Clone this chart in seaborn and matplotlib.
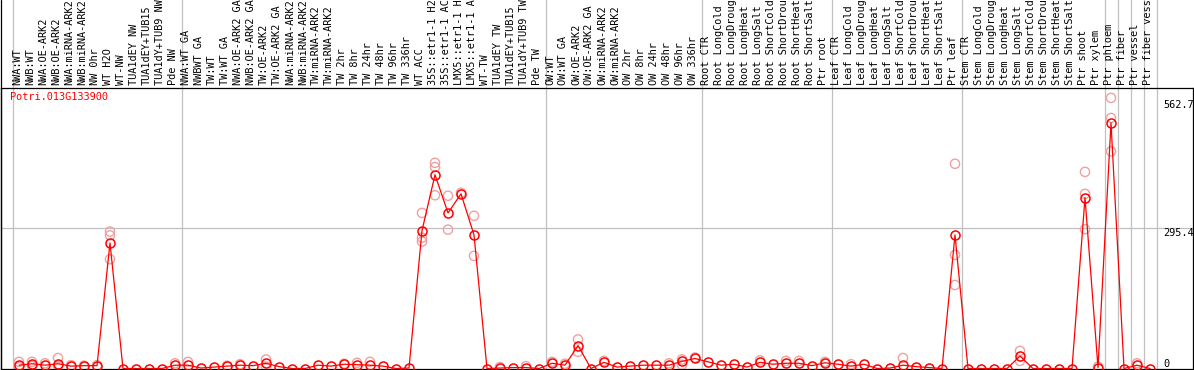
import numpy as np
import pandas as pd
import matplotlib
matplotlib.use("Agg")
import matplotlib.pyplot as plt
from matplotlib.lines import Line2D
import seaborn as sns

# sample labels (as displayed, 14 chars max)
labels = [
    "NWA:WT", "NWB:WT", "NWA:OE-ARK2", "NWB:OE-ARK2", "NWA:miRNA-ARK2", "NWB:miRNA-ARK2",
    "NW 0hr", "WT H2O", "WT-NW", "TUA1dEY NW", "TUA1dEY+TUB15", "TUA1dY+TUB9 NW", "Pde NW",
    "NWA:WT GA", "NWBWT GA", "TW:WT", "TW:WT GA", "NWA:OE-ARK2 GA", "NWB:OE-ARK2 GA",
    "TW:OE-ARK2", "TW:OE-ARK2 GA", "NWA:miRNA-ARK2", "NWB:miRNA-ARK2", "TW:miRNA-ARK2",
    "TW:miRNA-ARK2", "TW 2hr", "TW 8hr", "TW 24hr", "TW 48hr", "TW 96hr", "TW 336hr",
    "WT ACC", "35S::etr1-1 H2", "35S::etr1-1 AC", "LMX5::etr1-1 H", "LMX5::etr1-1 A",
    "WT-TW", "TUA1dEY TW", "TUA1dEY+TUB15", "TUA1dY+TUB9 TW", "Pde TW",
    "OW:WT", "OW:WT GA", "OW:OE-ARK2", "OW:OE-ARK2 GA", "OW:miRNA-ARK2", "OW:miRNA-ARK2",
    "OW 2hr", "OW 8hr", "OW 24hr", "OW 48hr", "OW 96hr", "OW 336hr",
    "Root CTR", "Root LongCold", "Root LongDroug", "Root LongHeat", "Root LongSalt",
    "Root ShortCold", "Root ShortDrou", "Root ShortHeat", "Root ShortSalt", "Ptr root",
    "Leaf CTR", "Leaf LongCold", "Leaf LongDroug", "Leaf LongHeat", "Leaf LongSalt",
    "Leaf ShortCold", "Leaf ShortDrou", "Leaf ShortHeat", "Leaf ShortSalt", "Ptr leaf",
    "Stem CTR", "Stem LongCold", "Stem LongDroug", "Stem LongHeat", "Stem LongSalt",
    "Stem ShortCold", "Stem ShortDrou", "Stem ShortHeat", "Stem ShortSalt", "Ptr shoot",
    "Ptr xylem", "Ptr phloem", "Ptr fiber", "Ptr vessel", "Ptr fiber vess",
]

# mean expression per sample
means = [
    7, 10, 7, 10, 5, 6, 6, 263, 0, 0, 0, 0, 7,
    7, 1, 3, 5, 7, 6, 11, 4, 0, 0, 7, 5, 9, 8, 7, 5, 0, 1,
    289, 406, 326, 366, 280, 0, 1, 2, 2, 0,
    11, 7, 48, 0, 13, 3, 5, 7, 7, 7, 15, 21,
    14, 7, 9, 3, 13, 9, 11, 11, 6, 12,
    9, 5, 9, 0, 1, 7, 4, 2, 0, 280,
    0, 0, 0, 0, 26, 0, 0, 0, 0, 358, 2,
    515, 0, 7, 0,
]

# individual replicates (sample index, value)
rep_idx = [0, 0, 1, 1, 2, 3, 3, 4, 5, 6,
           7, 7, 7, 12, 13, 16, 17, 19, 19, 25, 26, 27,
           31, 31, 31, 32, 32, 32, 33, 33, 34, 35, 35,
           37, 39, 41, 42, 43, 43, 45, 50, 51, 51, 52,
           57, 59, 60, 62, 64, 68,
           72, 72, 72, 77, 77, 82, 82, 82, 83, 84, 84, 84, 86]
rep_val = [14, 3, 14, 5, 11, 22, 5, 7, 6, 7,
           287, 279, 229, 11, 14, 6, 9, 19, 4, 10, 12, 14,
           326, 274, 266, 431, 422, 363, 362, 291, 368, 320, 236,
           3, 5, 14, 10, 61, 35, 16, 11, 19, 8, 23,
           17, 16, 16, 14, 9, 22,
           429, 238, 175, 37, 16, 412, 366, 292, 4, 567, 525, 455, 11]

# samples per block (separators drawn after each block)
group_sizes = [13, 28, 12, 10, 10, 11, 1, 1, 1, 1]

ytick_vals = [562.7, 295.4, 0]
gene = "Potri.013G133900"

W, H = 1194, 370
sns.set_theme(style="white")
plt.rcParams["font.family"] = ["DejaVu Sans Mono", "DejaVu Sans"]

fig = plt.figure(figsize=(W / 100, H / 100), dpi=100)
ax = fig.add_axes([1 / W, 1 / H, 1192 / W, 281 / H])

df = pd.DataFrame({"i": np.arange(len(means)), "v": means})
rep = pd.DataFrame({"i": rep_idx, "v": rep_val})

# replicates (light) then means (strong)
sns.scatterplot(data=rep, x="i", y="v", ax=ax, s=44, linewidth=1.0, zorder=3, legend=False)
pts = ax.collections[-1]
pts.set_facecolor("none")
pts.set_edgecolor("#f0a0a0")
sns.lineplot(data=df, x="i", y="v", ax=ax, color="red", linewidth=0.9, marker="o",
             markersize=6.5, markerfacecolor="none", markeredgecolor="red",
             markeredgewidth=1.1, zorder=4)

xmin = -18 / 13
ax.set_xlim(xmin, xmin + 1192 / 13)
ax.set_ylim(-1, -1 + 281 * 295.4 / 141)
ax.set_xticks([])
ax.set_yticks([])
ax.set_xlabel("")
ax.set_ylabel("")
for s in ax.spines.values():
    s.set_color("black")
    s.set_linewidth(0.9)

ax.axhline(295.4, color="#c0c0c0", linewidth=0.9, zorder=1)

# vertical separators through the whole figure height
bounds = [-0.5] + list(np.cumsum(group_sizes) - 0.5)
for b in bounds:
    ax.axvline(b, ymin=0, ymax=1 + 88 / 281, color="#c0c0c0", linewidth=0.9,
               clip_on=False, zorder=1)
fig.add_artist(Line2D([1 / W, 1 / W], [0, 1], color="black", linewidth=0.9))

lab_tr = ax.get_xaxis_transform()
for i, lab in enumerate(labels):
    ax.text(i - 0.15, 1 + 3 / 281, lab, transform=lab_tr, rotation=90, ha="center",
            va="bottom", fontsize=7.4, color="black")

ytr = ax.get_yaxis_transform()
for v in ytick_vals:
    ax.text((1163 - 1) / 1192, v, f"{v:g}", transform=ytr, ha="left",
            va="bottom" if v == 0 else "top", fontsize=7.4, color="black")

ax.text(9 / 1192, (369 - 97) / 281, gene, transform=ax.transAxes, ha="left",
        va="center", fontsize=7.4, color="red")

fig.savefig("out.png", dpi=100)
